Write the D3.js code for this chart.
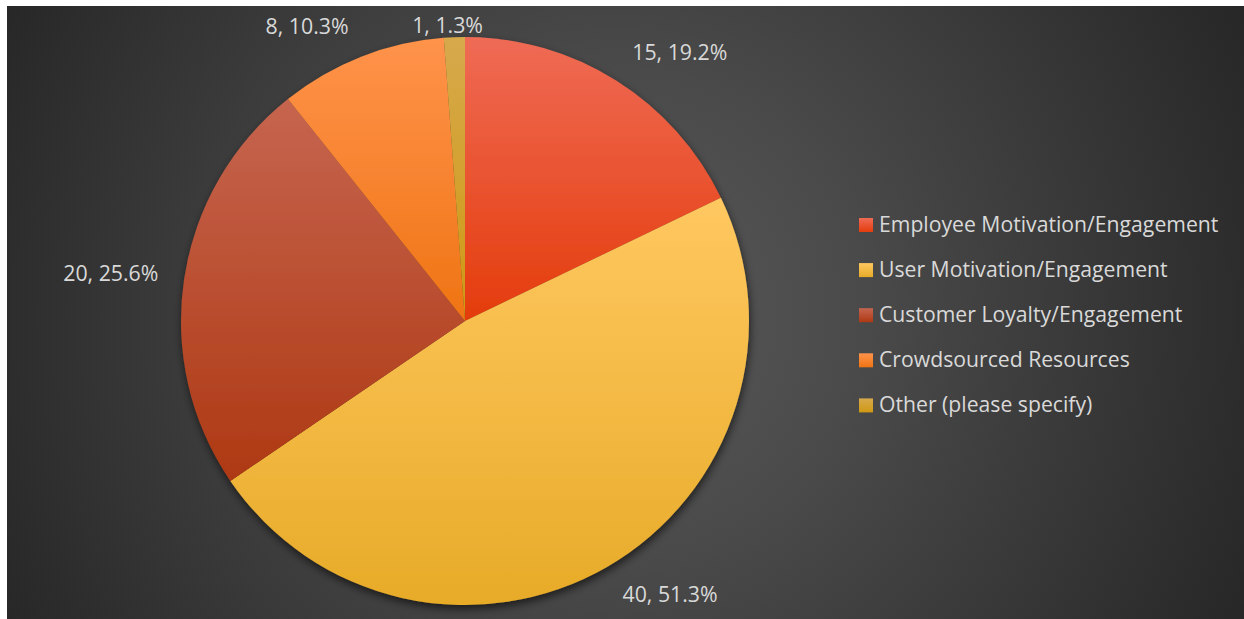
<!DOCTYPE html>
<html>
<head>
<meta charset="utf-8">
<script src="https://cdn.jsdelivr.net/npm/d3@7/dist/d3.min.js"></script>
<style>
  html, body { margin: 0; padding: 0; background: #ffffff; }
  svg { display: block; }
  text { font-family: "Open Sans", Roboto, sans-serif; }
</style>
</head>
<body>
<svg id="chart" width="1244" height="619"></svg>
<script>
// Survey answers: respondent counts per category
const categories = [
  "Employee Motivation/Engagement",
  "User Motivation/Engagement",
  "Customer Loyalty/Engagement",
  "Crowdsourced Resources",
  "Other (please specify)"
];
const counts = [15, 40, 20, 8, 1];
// Share of respondents (78 people answered; multiple answers allowed)
const percentLabels = ["19.2%", "51.3%", "25.6%", "10.3%", "1.3%"];
// Fill gradient per category: lighter top tint, base colour at bottom
const topColors  = ["#EF6B55", "#FFC860", "#C6654F", "#FF934B", "#D7A94C"];
const baseColors = ["#E43C0C", "#E7AB28", "#AE3913", "#EF7413", "#CF9913"];

const W = 1244, H = 619;
const area = { x: 7, y: 6, w: W - 7, h: H - 6 };
const cx = 465, cy = 321, radius = 284;
const labelColor = "#D9D9D9";

const svg = d3.select("#chart");
const defs = svg.append("defs");

// Chart area background: radial light-to-dark grey
const bg = defs.append("radialGradient")
  .attr("id", "bgGrad")
  .attr("gradientUnits", "userSpaceOnUse")
  .attr("cx", 620).attr("cy", 315).attr("r", 690);
bg.append("stop").attr("offset", 0).attr("stop-color", "#595959");
bg.append("stop").attr("offset", 0.35).attr("stop-color", "#4a4a4a");
bg.append("stop").attr("offset", 1).attr("stop-color", "#272727");

categories.forEach((c, i) => {
  const g = defs.append("linearGradient")
    .attr("id", "slice" + i)
    .attr("x1", 0).attr("y1", 0).attr("x2", 0).attr("y2", 1);
  g.append("stop").attr("offset", 0).attr("stop-color", topColors[i]);
  g.append("stop").attr("offset", 1).attr("stop-color", baseColors[i]);
});

const shadow = defs.append("filter")
  .attr("id", "pieShadow")
  .attr("x", "-10%").attr("y", "-10%").attr("width", "120%").attr("height", "120%");
shadow.append("feDropShadow")
  .attr("dx", 1).attr("dy", 4).attr("stdDeviation", 4)
  .attr("flood-color", "#000").attr("flood-opacity", 0.6);

svg.append("rect")
  .attr("x", area.x).attr("y", area.y)
  .attr("width", area.w).attr("height", area.h)
  .attr("fill", "url(#bgGrad)");

const data = categories.map((c, i) => ({ name: c, value: counts[i], pct: percentLabels[i], i }));

const pie = d3.pie().sort(null).value(d => d.value).startAngle(0).endAngle(2 * Math.PI);
const arcs = pie(data);
const arc = d3.arc().innerRadius(0).outerRadius(radius);

const pieG = svg.append("g")
  .attr("transform", `translate(${cx},${cy})`)
  .attr("filter", "url(#pieShadow)");

pieG.selectAll("path")
  .data(arcs)
  .join("path")
  .attr("d", arc)
  .attr("fill", d => `url(#slice${d.data.i})`);

// Outside-end data labels
const labelFont = 21.3;
const padX = 5, padY = 3;
const labelG = svg.append("g");
arcs.forEach(a => {
  const mid = (a.startAngle + a.endAngle) / 2;
  const s = Math.sin(mid), c = Math.cos(mid);
  const t = radius + 21;
  const px = cx + t * s, py = cy - t * c;
  const txt = labelG.append("text")
    .attr("font-size", labelFont)
    .attr("fill", labelColor)
    .text(`${a.data.value}, ${a.data.pct}`);
  const w = txt.node().getComputedTextLength() + 2 * padX;
  const h = 16 + 2 * padY;
  const fx = 0.5 * (1 - Math.max(-1, Math.min(1, 4 * s)));
  const fy = 0.5 * (1 + c);
  let left = px - fx * w;
  let top = py - fy * h;
  top = Math.max(top, area.y + 9);
  txt.attr("x", left + padX).attr("y", top + padY + 15);
});

// Legend
const legend = svg.append("g").attr("transform", "translate(859,218)");
const rowGap = 45.1;
const items = legend.selectAll("g")
  .data(data)
  .join("g")
  .attr("transform", (d, i) => `translate(0,${i * rowGap})`);
items.append("rect")
  .attr("width", 14).attr("height", 14)
  .attr("fill", d => `url(#slice${d.i})`);
items.append("text")
  .attr("x", 20).attr("y", 14)
  .attr("font-size", 21.2)
  .attr("fill", labelColor)
  .text(d => d.name);
</script>
</body>
</html>
